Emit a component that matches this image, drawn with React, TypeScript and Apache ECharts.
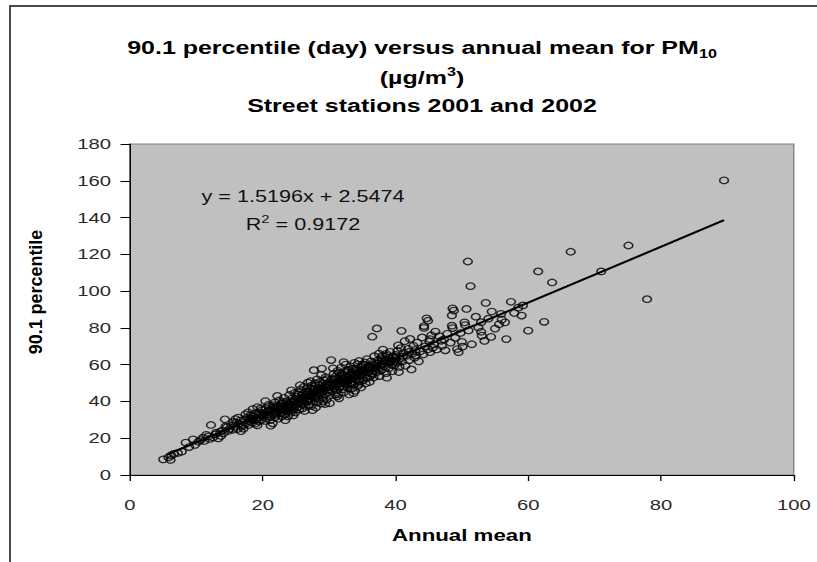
import React, { useEffect, useRef } from "react";
import * as echarts from "echarts";

// ---- data (annual mean, 90.1 percentile) ----
const pointsBelow15: [number, number][] = [
  [5.0, 8.5], [6.1, 8.2], [6.2, 10.7], [5.8, 9.6], [6.6, 11.5], [7.8, 12.7], [8.4, 17.6], [9.5, 19.4],
  [8.9, 15.2], [9.8, 16.4], [7.2, 12.0], [10.3, 18.1], [10.6, 19.0], [11.2, 18.5], [11.0, 20.3], [11.8, 21.0],
  [12.2, 27.2], [12.5, 20.4], [12.9, 22.1], [13.3, 19.9], [13.6, 23.5], [13.9, 24.2], [14.3, 30.3], [14.1, 22.8],
  [14.6, 25.9], [14.8, 24.0], [12.0, 19.6], [13.0, 23.0], [11.5, 21.8], [14.4, 26.4], [13.7, 21.2], [15.0, 25.1],
];

const points15to20: [number, number][] = [
  [15.3, 27.0], [15.5, 24.6], [15.8, 26.3], [16.0, 28.5], [16.2, 25.0], [16.4, 27.8], [16.6, 29.6], [16.9, 26.4],
  [17.1, 25.2], [17.2, 30.1], [17.5, 28.0], [17.7, 31.4], [17.9, 27.2], [18.0, 29.5], [18.2, 32.6], [18.4, 28.4],
  [18.6, 30.8], [18.8, 33.5], [18.9, 27.9], [19.1, 31.2], [19.3, 34.0], [19.4, 29.1], [19.6, 32.4], [19.8, 30.0],
  [19.9, 35.3], [20.0, 31.6], [15.9, 30.4], [16.7, 23.8], [17.4, 33.0], [18.5, 35.8], [19.2, 27.0], [19.7, 36.2],
  [17.0, 27.4], [18.1, 31.0], [15.6, 28.9], [18.3, 30.2], [18.7, 31.9], [19.0, 29.8], [19.5, 33.1],
  [16.3, 31.2], [17.8, 34.1], [19.2, 36.9],
];

const points20to25: [number, number][] = [
  [20.2, 33.8], [20.3, 29.4], [20.5, 36.0], [20.6, 31.0], [20.8, 34.5], [20.9, 38.2], [21.0, 32.2], [21.1, 29.8],
  [21.3, 35.4], [21.5, 28.1], [21.5, 37.0], [21.6, 33.1], [21.8, 39.4], [21.9, 31.5], [22.0, 35.9], [22.1, 34.0],
  [22.3, 30.6], [22.4, 37.8], [22.5, 40.6], [22.6, 33.6], [22.8, 36.4], [22.9, 31.8], [23.0, 38.9], [23.1, 35.0],
  [23.2, 42.0], [23.3, 33.0], [23.5, 37.2], [23.6, 40.0], [23.7, 34.6], [23.8, 31.9], [23.9, 38.3], [24.0, 43.5],
  [24.1, 36.1], [24.2, 33.9], [24.4, 39.6], [24.5, 41.8], [24.6, 35.2], [24.7, 37.9], [24.8, 44.6], [24.9, 34.1],
  [25.0, 40.4], [20.4, 40.2], [21.2, 26.8], [22.2, 43.0], [23.4, 29.8], [24.3, 46.0], [21.7, 36.7], [22.7, 38.6],
  [23.8, 36.5], [24.6, 32.4], [20.1, 32.4], [20.7, 33.0], [21.4, 34.6], [21.9, 33.7], [22.3, 36.5], [22.6, 35.0],
  [23.0, 36.0], [23.4, 37.9], [23.7, 36.8], [24.0, 38.4], [24.3, 37.3], [24.7, 39.9], [21.2, 31.6], [22.8, 33.9],
  [24.5, 36.0], [20.9, 35.1], [22.0, 32.7], [23.1, 39.7], [23.9, 35.5], [24.8, 41.2], [22.5, 34.8], [21.6, 38.0],
];

const points25to30: [number, number][] = [
  [25.1, 42.6], [25.2, 37.0], [25.3, 44.8], [25.4, 39.2], [25.5, 35.6], [25.6, 41.4], [25.7, 46.5], [25.8, 38.4],
  [25.9, 43.2], [26.0, 36.2], [26.1, 40.8], [26.2, 48.0], [26.3, 42.0], [26.4, 37.6], [26.5, 45.3], [26.6, 39.8],
  [26.7, 43.9], [26.8, 50.2], [26.9, 41.0], [27.0, 38.0], [27.1, 46.8], [27.2, 43.4], [27.3, 40.2], [27.4, 48.6],
  [27.5, 35.3], [27.6, 44.5], [27.7, 57.0], [27.8, 41.7], [27.9, 49.8], [28.0, 45.6], [28.1, 39.5], [28.2, 52.0],
  [28.3, 43.1], [28.4, 47.3], [28.5, 41.0], [28.6, 50.6], [28.7, 44.8], [28.8, 38.8], [28.9, 57.9], [29.0, 46.2],
  [29.1, 42.4], [29.2, 51.5], [29.3, 48.4], [29.4, 44.0], [29.5, 53.2], [29.6, 40.9], [29.7, 47.6], [29.8, 50.0],
  [29.9, 45.1], [30.0, 43.0], [25.6, 48.8], [26.3, 34.8], [27.2, 51.0], [28.0, 36.7], [28.8, 54.4], [29.4, 38.6],
  [26.9, 45.0], [27.8, 47.0], [28.6, 46.0], [29.6, 49.0], [25.0, 38.6], [25.3, 40.9], [25.6, 39.7], [25.9, 41.9],
  [26.2, 40.4], [26.5, 42.6], [26.8, 41.5], [27.1, 43.8], [27.4, 42.7], [27.7, 44.9], [28.0, 43.6], [28.3, 45.8],
  [28.6, 44.2], [28.9, 46.9], [29.2, 45.7], [29.5, 47.8], [29.8, 46.4], [26.0, 44.0], [27.5, 46.3], [29.0, 49.5],
  [25.4, 43.7], [26.1, 38.9], [26.7, 47.2], [27.3, 37.4], [27.9, 42.3], [28.5, 48.9], [29.1, 40.2], [29.7, 52.1],
];

const points30to35: [number, number][] = [
  [30.1, 39.0], [30.2, 48.8], [30.3, 62.5], [30.4, 52.0], [30.5, 45.4], [30.6, 50.3], [30.7, 55.1], [30.8, 47.2],
  [30.9, 43.6], [31.0, 53.6], [31.1, 49.4], [31.2, 46.0], [31.3, 56.6], [31.4, 51.2], [31.5, 41.7], [31.6, 48.1],
  [31.7, 54.0], [31.8, 58.3], [31.9, 50.6], [32.0, 46.7], [32.1, 52.8], [32.2, 44.9], [32.3, 55.9], [32.4, 49.6],
  [32.5, 60.0], [32.6, 53.3], [32.7, 47.8], [32.8, 51.0], [32.9, 57.2], [33.0, 43.8], [33.1, 54.8], [33.2, 50.1],
  [33.3, 59.1], [33.4, 47.0], [33.5, 52.6], [33.6, 56.0], [33.7, 49.3], [33.8, 61.0], [33.9, 45.8], [34.0, 54.2],
  [34.1, 51.6], [34.2, 57.8], [34.3, 48.4], [34.4, 55.3], [34.5, 62.0], [34.6, 50.8], [34.7, 53.9], [34.8, 47.6],
  [34.9, 58.7], [35.0, 56.3], [30.6, 58.0], [31.4, 44.0], [32.2, 61.4], [33.0, 53.0], [33.7, 44.5], [34.5, 52.0],
  [31.9, 55.0], [32.8, 48.9], [33.5, 57.5], [34.3, 60.2], [30.1, 48.9], [30.4, 47.5], [30.7, 49.8], [31.0, 48.3],
  [31.3, 50.9], [31.6, 49.7], [31.9, 51.8], [32.2, 50.4], [32.5, 52.7], [32.8, 51.6], [33.1, 53.9], [33.4, 52.4],
  [33.7, 54.6], [34.0, 53.3], [34.3, 55.8], [34.6, 54.5], [34.9, 56.9], [30.5, 51.6], [32.0, 54.0], [33.5, 50.0],
  [30.9, 52.4], [31.5, 55.7], [32.1, 48.0], [32.7, 56.8], [33.3, 49.2], [33.9, 57.4], [34.5, 49.5], [31.2, 42.8],
];

const points35to45: [number, number][] = [
  [35.1, 51.4], [35.2, 60.1], [35.3, 54.5], [35.5, 49.8], [35.6, 57.6], [35.7, 63.0], [35.8, 52.9], [35.9, 56.0],
  [36.0, 59.4], [36.1, 50.6], [36.3, 61.7], [36.4, 55.2], [36.5, 75.2], [36.6, 58.4], [36.7, 53.0], [36.8, 64.6],
  [36.9, 57.0], [37.0, 60.6], [37.2, 79.7], [37.1, 55.8], [37.3, 62.4], [37.4, 58.0], [37.5, 66.0], [37.6, 53.8],
  [37.8, 60.0], [37.9, 63.6], [38.0, 57.3], [38.1, 68.2], [38.3, 59.2], [38.4, 62.0], [38.6, 55.4], [38.7, 52.9],
  [38.8, 64.8], [38.9, 60.4], [39.0, 58.1], [39.2, 67.0], [39.3, 61.8], [39.5, 56.4], [39.6, 63.9], [39.8, 59.6],
  [40.0, 65.3], [40.2, 61.0], [40.4, 70.5], [40.6, 58.8], [40.9, 78.4], [35.2, 55.6], [35.5, 57.8], [35.8, 56.4],
  [36.1, 58.9], [36.4, 57.6], [36.7, 59.8], [37.0, 58.5], [37.3, 60.7], [37.6, 59.4], [37.9, 61.9], [38.2, 60.6],
  [38.5, 62.8], [38.8, 61.4], [39.1, 63.7], [39.4, 62.3], [39.7, 64.5], [40.0, 63.0], [35.0, 59.4], [36.5, 54.8],
  [38.0, 64.6], [39.5, 60.2], [40.1, 64.0], [40.3, 67.5], [40.5, 56.0], [40.7, 63.2], [40.8, 69.0], [41.0, 61.6],
  [41.2, 66.4], [41.4, 72.8], [41.5, 59.4], [41.7, 64.9], [41.9, 68.6], [42.1, 62.5], [42.2, 74.0], [42.4, 57.4],
  [42.5, 66.0], [42.7, 70.2], [42.9, 63.8], [43.0, 68.0], [43.3, 72.0], [43.5, 61.8], [43.7, 67.2], [44.0, 74.8],
  [44.2, 65.6], [44.3, 81.0], [44.5, 70.0], [44.7, 85.2], [44.9, 68.4], [45.1, 72.6], [45.2, 66.8], [45.4, 76.0],
  [35.4, 61.2], [36.2, 53.7], [37.7, 56.6], [38.6, 65.9], [39.9, 61.9], [41.1, 64.3], [42.0, 66.9], [43.1, 65.1],
];

const pointsAbove45: [number, number][] = [
  [44.9, 83.9], [44.3, 80.0], [45.2, 73.9], [46.2, 68.3], [47.3, 73.8], [48.3, 72.0], [48.6, 79.9], [48.8, 89.4],
  [48.5, 86.8], [49.5, 66.8], [50.1, 69.8], [50.7, 90.3], [50.4, 83.0], [48.6, 90.6], [48.5, 81.2],
  [49.3, 68.5], [45.8, 71.0], [46.6, 75.5], [47.0, 70.2], [47.8, 76.8], [46.0, 78.0], [49.0, 74.6], [49.8, 77.2],
  [50.0, 72.4], [45.6, 69.2], [46.9, 73.0], [47.5, 67.8],
  [50.9, 116.1], [51.3, 102.7], [51.5, 71.1], [52.1, 86.1], [52.9, 77.9], [52.9, 83.1], [53.4, 72.9], [53.6, 93.6],
  [54.4, 75.1], [54.5, 88.9], [55.6, 82.0], [55.9, 87.6], [56.5, 83.0], [56.7, 73.9], [57.4, 94.2], [59.0, 86.7],
  [59.2, 92.2], [60.0, 78.5], [50.5, 81.5], [51.0, 78.6], [52.5, 80.2], [53.0, 75.8], [54.0, 85.0], [55.0, 79.6],
  [56.0, 84.5], [57.9, 88.1], [58.5, 91.0],
  [61.5, 110.7], [62.4, 83.3], [63.6, 104.7], [66.4, 121.4], [71.0, 110.7], [75.1, 124.8], [77.9, 95.6], [89.5, 160.2],
];

// regression shown on the chart
const slope = 1.5196;
const intercept = 2.5474;
const rSquared = 0.9172;
const trendRange = [5.5, 89.5];

const xTickRange = { min: 0, max: 100, step: 20 };
const yTickRange = { min: 0, max: 180, step: 20 };

const titleLines = [
  "90.1 percentile (day) versus annual mean for PM{sub|10}",
  "(µg/m{sup|3})",
  "Street stations 2001 and 2002",
];

// ---- layout ----
const SCALE_X = 1.35;
const W = 817 / SCALE_X;
const FONT = '"Liberation Sans", Arial, Helvetica, sans-serif';

export default function App() {
  const ref = useRef<HTMLDivElement>(null);
  useEffect(() => {
    if (!ref.current) return;
    const chart = echarts.init(ref.current, undefined, { renderer: "svg" });
    const allPoints = [
      ...pointsBelow15,
      ...points15to20,
      ...points20to25,
      ...points25to30,
      ...points30to35,
      ...points35to45,
      ...pointsAbove45,
    ];
    const trend = trendRange.map((x) => [x, slope * x + intercept]);
    const titleX = 422 / SCALE_X;
    const eqX = 303 / SCALE_X;
    chart.setOption({
      animation: false,
      grid: {
        left: 130 / SCALE_X,
        right: W - 794 / SCALE_X,
        top: 144,
        bottom: 87,
        show: true,
        backgroundColor: "#c0c0c0",
        borderColor: "#808080",
        borderWidth: 1,
      },
      xAxis: {
        type: "value",
        min: xTickRange.min,
        max: xTickRange.max,
        interval: xTickRange.step,
        axisLine: { show: true, onZero: false, lineStyle: { color: "#000", width: 1 } },
        axisTick: { show: true, length: 6, lineStyle: { color: "#000" } },
        axisLabel: { margin: 22, fontSize: 15, color: "#2a2a2a", fontFamily: FONT },
        splitLine: { show: false },
        name: "Annual mean",
        nameLocation: "middle",
        nameGap: 52,
        nameTextStyle: { fontSize: 16.5, fontWeight: "bold", color: "#000", fontFamily: FONT },
      },
      yAxis: {
        type: "value",
        min: yTickRange.min,
        max: yTickRange.max,
        interval: yTickRange.step,
        axisLine: { show: true, onZero: false, lineStyle: { color: "#000", width: 1 } },
        axisTick: { show: true, length: 7, lineStyle: { color: "#000" } },
        axisLabel: { margin: 14, fontSize: 15, color: "#2a2a2a", fontFamily: FONT },
        splitLine: { show: false },
      },
      series: [
        {
          type: "scatter",
          data: allPoints,
          symbol: "circle",
          symbolSize: 6.5,
          itemStyle: { color: "rgba(0,0,0,0)", borderColor: "#000", borderWidth: 1.2 },
          z: 2,
        },
        {
          type: "line",
          data: trend,
          symbol: "none",
          lineStyle: { color: "#000", width: 2 },
          z: 3,
        },
      ],
      graphic: [
        ...titleLines.map((t, i) => ({
          type: "text",
          x: titleX,
          y: [48, 78, 106][i],
          z: 10,
          style: {
            text: t,
            align: "center",
            verticalAlign: "middle",
            fontFamily: FONT,
            fontSize: 18.5,
            fontWeight: "bold",
            fill: "#000",
            lineHeight: 24,
            rich: {
              sub: { fontSize: 12, fontWeight: "bold", fontFamily: FONT, lineHeight: 12, verticalAlign: "bottom" },
              sup: { fontSize: 12, fontWeight: "bold", fontFamily: FONT, lineHeight: 12, verticalAlign: "top" },
            },
          },
        })),
        {
          type: "text",
          x: 26.4,
          y: 292,
          rotation: Math.PI / 2,
          scaleX: 1.38,
          z: 10,
          style: {
            text: "90.1 percentile",
            align: "center",
            verticalAlign: "middle",
            fontFamily: FONT,
            fontSize: 13,
            fontWeight: "bold",
            fill: "#000",
          },
        },
        {
          type: "text",
          x: eqX,
          y: 197,
          z: 10,
          style: {
            text: `y = ${slope}x + ${intercept}`,
            align: "center",
            verticalAlign: "middle",
            fontFamily: FONT,
            fontSize: 16,
            fill: "#111",
          },
        },
        {
          type: "text",
          x: eqX,
          y: 225,
          z: 10,
          style: {
            text: `R{sup|2} = ${rSquared}`,
            align: "center",
            verticalAlign: "middle",
            fontFamily: FONT,
            fontSize: 16,
            fill: "#111",
            lineHeight: 22,
            rich: {
              sup: { fontSize: 11, fontFamily: FONT, fill: "#111", lineHeight: 12, verticalAlign: "top" },
            },
          },
        },
      ],
    });
    return () => chart.dispose();
  }, []);

  return (
    <div
      style={{
        position: "absolute",
        left: 0,
        top: 0,
        width: 817,
        height: 562,
        overflow: "hidden",
        background: "#fff",
      }}
    >
      <div
        style={{
          position: "absolute",
          left: 9,
          top: 5,
          right: 0,
          bottom: 0,
          borderTop: "2px solid #4a4a4a",
          borderLeft: "2px solid #4a4a4a",
        }}
      />
      <div
        ref={ref}
        style={{
          position: "absolute",
          left: 0,
          top: 0,
          width: W,
          height: 562,
          transform: `scaleX(${SCALE_X})`,
          transformOrigin: "0 0",
        }}
      />
    </div>
  );
}
